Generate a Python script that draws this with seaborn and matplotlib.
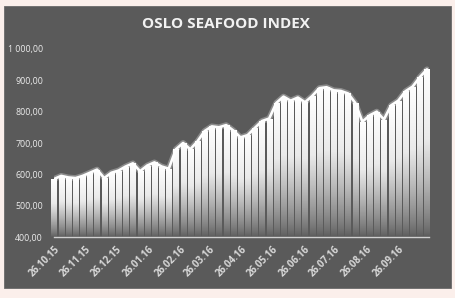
import numpy as np
import pandas as pd
import matplotlib
matplotlib.use("Agg")
import matplotlib.pyplot as plt
import matplotlib.patheffects as pe
from matplotlib.colors import LinearSegmentedColormap
from matplotlib.patches import Rectangle
from matplotlib.ticker import FuncFormatter
import seaborn as sns

# weekly index values
start = "2015-10-26"
index_values = [585, 595, 590, 588, 595, 605, 615, 588, 605, 612,
                625, 635, 610, 628, 638, 625, 618, 680, 700, 680,
                705, 738, 753, 750, 757, 740, 718, 725, 748, 770,
                778, 828, 848, 835, 845, 830, 850, 875, 878, 868,
                866, 858, 828, 768, 788, 800, 775, 820, 835, 865,
                880, 910, 935]
tick_dates = [pd.Timestamp("2015-10-26") + pd.DateOffset(months=k) for k in range(13)]
tick_labels = [d.strftime("%d.%m.%y") for d in tick_dates[:-1]] + [""]
y_ticks = [400, 500, 600, 700, 800, 900, 1000]

dates = pd.date_range(start, periods=len(index_values), freq="7D")
df = pd.DataFrame({"date": dates, "value": index_values})

BG = "#5a5a5a"
OUTER = "#fbefeb"
TXT = "#ececec"

sns.set_style("dark", {"axes.facecolor": BG})
plt.rcParams["font.family"] = ["Open Sans", "DejaVu Sans"]

fig = plt.figure(figsize=(4.55, 2.98), dpi=100, facecolor=OUTER)
fig.patches.append(Rectangle((4 / 455, 1 - 288 / 298), 447 / 455, 282 / 298,
                             transform=fig.transFigure, facecolor=BG,
                             edgecolor="#6a6a6a", linewidth=0.6, zorder=-5))
ax = fig.add_axes([54 / 455, 1 - 237 / 298, 375 / 455, 188 / 298])
ax.set_facecolor(BG)

# bars with a vertical white->grey gradient
bars = ax.bar(df["date"], df["value"] - 400, bottom=400, width=5.0,
              color="none", edgecolor="none", align="center", zorder=2)
cmap = LinearSegmentedColormap.from_list("fade", [BG, "#a0a0a0", "#eaeaea", "#ffffff"])
grad = np.linspace(0, 1, 256).reshape(-1, 1) ** 0.75
for b in bars:
    x0, y0, w, h = b.get_x(), b.get_y(), b.get_width(), b.get_height()
    im = ax.imshow(grad, extent=[x0, x0 + w, y0, y0 + h], origin="lower",
                   aspect="auto", cmap=cmap, vmin=0, vmax=1, zorder=2)
    im.set_clip_path(b)

sns.lineplot(data=df, x="date", y="value", ax=ax, color="white", linewidth=1.9,
             zorder=4,
             path_effects=[pe.Stroke(linewidth=4.2, foreground="white", alpha=0.3),
                           pe.Normal()])

ax.set_xlim(tick_dates[0], tick_dates[-1])
ax.set_ylim(400, 1000)
ax.set_yticks(y_ticks)
ax.yaxis.set_major_formatter(FuncFormatter(
    lambda v, p: f"{v:,.2f}".replace(",", " ").replace(".", ",")))
ax.set_xticks(tick_dates)
ax.set_xticklabels(tick_labels, rotation=45, ha="right", rotation_mode="anchor",
                   fontsize=7, fontweight="bold", color="#d8d8d8")
for t in ax.get_yticklabels():
    t.set_fontsize(6.3)
    t.set_color(TXT)

ax.set_xlabel("")
ax.set_ylabel("")
ax.grid(False)
for s in ["top", "right", "left"]:
    ax.spines[s].set_visible(False)
ax.spines["bottom"].set_color("#d0d0d0")
ax.spines["bottom"].set_linewidth(1.0)
ax.tick_params(axis="x", direction="inout", length=4, color="#d0d0d0", width=0.8, pad=3)
ax.tick_params(axis="y", length=0, pad=8)

fig.text(226 / 455, 1 - 24 / 298, "OSLO SEAFOOD INDEX", ha="center", va="center",
         fontsize=11, fontweight="bold", color="#f2f2f2")

fig.savefig("out.png", dpi=100, facecolor=OUTER)
